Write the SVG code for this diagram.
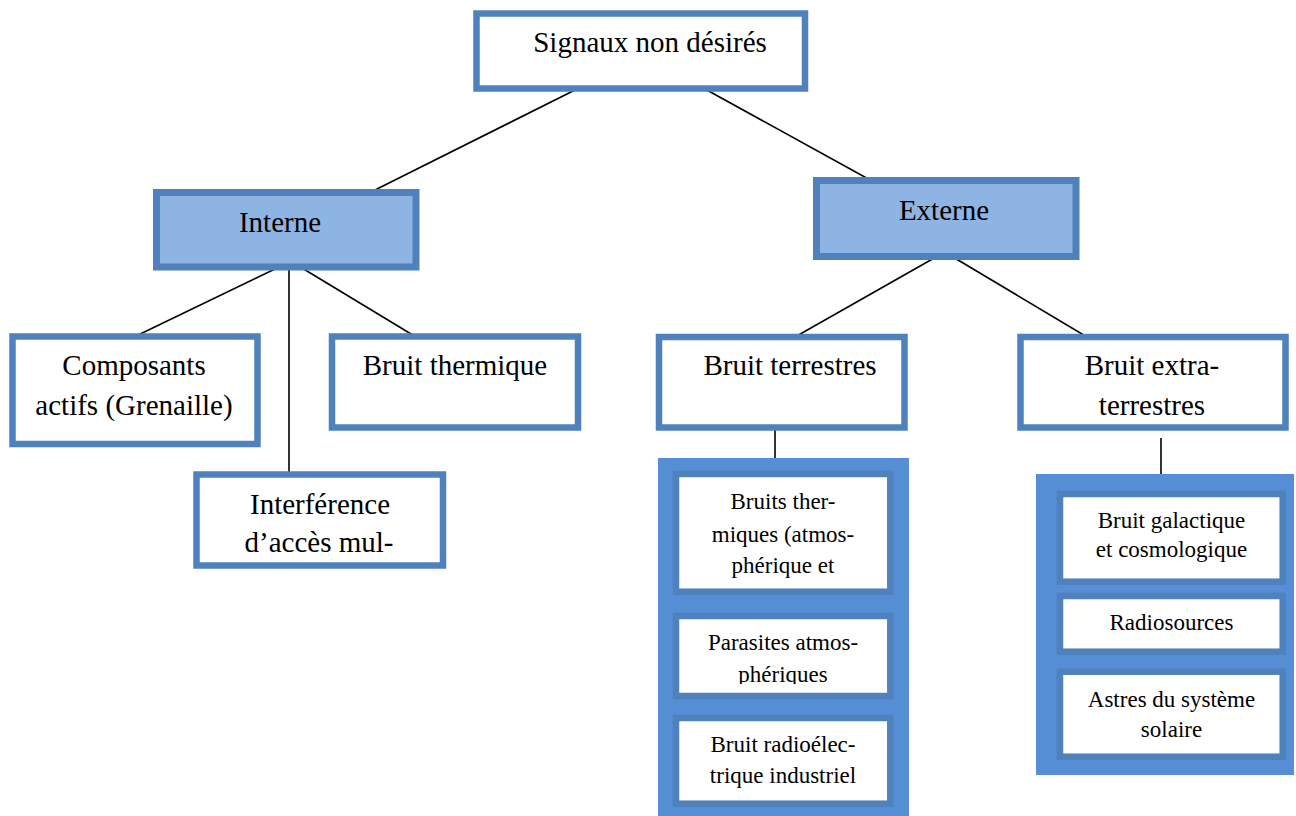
<svg xmlns="http://www.w3.org/2000/svg" width="1296" height="816" viewBox="0 0 1296 816">
<style>
.box{fill:#ffffff;stroke:#4F81BD;stroke-width:6.5}
.hdr{fill:#8EB4E3;stroke:#4F81BD;stroke-width:7}
.cont{fill:#558ED5;stroke:none}
.ibox{fill:#ffffff;stroke:#4F81BD;stroke-width:6.5}
.t{font-family:"Liberation Serif","Times New Roman",serif;font-size:29px;fill:#000;text-anchor:middle}
.s{font-family:"Liberation Serif","Times New Roman",serif;font-size:23px;fill:#000;text-anchor:middle}
.c{stroke:#000;stroke-width:1.6;fill:none}
</style>
<defs>
<clipPath id="clipPar"><rect x="679" y="619" width="209" height="65"/></clipPath>
</defs>
<rect width="1296" height="816" fill="#fff"/>
<g id="connectors">
<line class="c" x1="577" y1="89" x2="369" y2="193"/>
<line class="c" x1="705" y1="89" x2="872" y2="181"/>
<line class="c" x1="277" y1="268" x2="134" y2="337"/>
<line class="c" x1="289" y1="268" x2="289" y2="473"/>
<line class="c" x1="302" y1="268" x2="416" y2="337"/>
<line class="c" x1="936" y1="257" x2="795" y2="337"/>
<line class="c" x1="953" y1="257" x2="1087" y2="337"/>
<line class="c" x1="775" y1="430" x2="775" y2="462"/>
<line class="c" x1="1161" y1="438" x2="1161" y2="474"/>
</g>
<g id="n-signaux">
<rect class="box" x="476.5" y="13.5" width="328.5" height="75"/>
<text class="t" x="650" y="52">Signaux non désirés</text>
</g>
<g id="n-interne">
<rect class="hdr" x="156.5" y="192.5" width="259.5" height="74.5"/>
<text class="t" x="280" y="232">Interne</text>
</g>
<g id="n-externe">
<rect class="hdr" x="816.5" y="180.5" width="259.5" height="76"/>
<text class="t" x="944" y="220">Externe</text>
</g>
<g id="n-composants">
<rect class="box" x="12.5" y="336.5" width="245" height="107.5"/>
<text class="t" x="134" y="375">Composants</text>
<text class="t" x="134" y="415">actifs (Grenaille)</text>
</g>
<g id="n-thermique">
<rect class="box" x="332" y="336.5" width="246" height="91"/>
<text class="t" x="455" y="375">Bruit thermique</text>
</g>
<g id="n-interference">
<rect class="box" x="196.5" y="474.5" width="246.5" height="91"/>
<text class="t" x="320" y="514">Interférence</text>
<text class="t" x="319" y="552">d’accès mul-</text>
</g>
<g id="n-terrestres">
<rect class="box" x="659" y="337" width="245.5" height="90.5"/>
<text class="t" x="790" y="375">Bruit terrestres</text>
</g>
<g id="n-extra">
<rect class="box" x="1020.5" y="337" width="265" height="90.5"/>
<text class="t" x="1152" y="375">Bruit extra-</text>
<text class="t" x="1152" y="415">terrestres</text>
</g>
<g id="n-terrestres-list">
<rect class="cont" x="658" y="458" width="251" height="358"/>
<g id="n-bruits-thermiques">
<rect class="ibox" x="676" y="474" width="214.3" height="117.7"/>
<text class="s" x="783" y="509">Bruits ther-</text>
<text class="s" x="783" y="541.5">miques (atmos-</text>
<text class="s" x="783" y="573">phérique et</text>
</g>
<g id="n-parasites">
<rect class="ibox" x="676" y="616" width="214.3" height="80"/>
<g clip-path="url(#clipPar)">
<text class="s" x="783" y="650">Parasites atmos-</text>
<text class="s" x="783" y="681.5">phériques</text>
</g>
</g>
<g id="n-radioelec">
<rect class="ibox" x="676" y="718" width="214.3" height="85.7"/>
<text class="s" x="783" y="751.5">Bruit radioélec-</text>
<text class="s" x="783" y="783">trique industriel</text>
</g>
</g>
<g id="n-extra-list">
<rect class="cont" x="1036" y="474" width="258" height="301"/>
<g id="n-galactique">
<rect class="ibox" x="1060" y="494" width="222.7" height="87.7"/>
<text class="s" x="1171.5" y="528">Bruit galactique</text>
<text class="s" x="1171.5" y="556.5">et cosmologique</text>
</g>
<g id="n-radiosources">
<rect class="ibox" x="1060" y="596" width="222.7" height="55.7"/>
<text class="s" x="1171.5" y="630">Radiosources</text>
</g>
<g id="n-astres">
<rect class="ibox" x="1060" y="671.7" width="222.7" height="85"/>
<text class="s" x="1171.5" y="706.5">Astres du système</text>
<text class="s" x="1171.5" y="736.5">solaire</text>
</g>
</g>
</svg>
